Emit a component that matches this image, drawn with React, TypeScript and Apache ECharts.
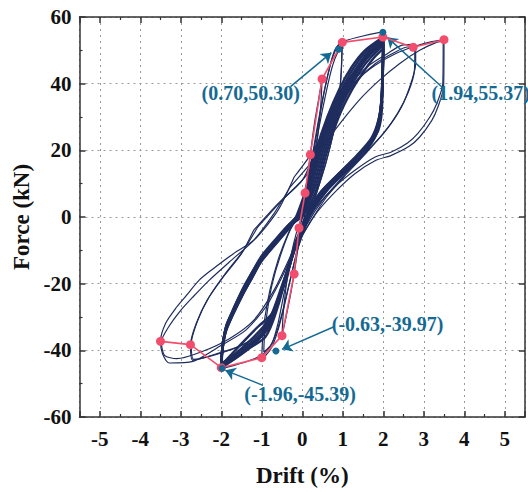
import React, { useEffect, useRef } from "react";
import * as echarts from "echarts";

const NAVY = "#1f2d5e";
const PINK = "#f24d6c";
const TEAL = "#156a93";
const FONT = "Liberation Serif";

// ±2 % cycles (dense band)
const band1 = [[-0.1,0],[0.1,6],[0.2,10],[0.42,20],[0.7,30],[1.0,38],[1.3,44],[1.6,49],[2,53],[1.99,45],[1.97,38],[1.92,31],[1.8,25],[1.5,20],[1.1,15],[0.6,9],[0.25,3],[0.05,-2],[-0.15,-7],[-0.3,-13],[-0.45,-19],[-0.6,-25],[-0.8,-31],[-1.0,-35],[-1.3,-38.5],[-1.6,-41.5],[-2,-45],[-1.98,-40],[-1.9,-34],[-1.74,-29],[-1.55,-24],[-1.34,-19],[-1.05,-13],[-0.7,-8],[-0.35,-3],[-0.1,0]];
const band2 = [[-0.05,0],[0.18,6],[0.3,10],[0.52,20],[0.8,30],[1.1,38],[1.38,44],[1.66,48.5],[2,52],[1.99,44],[1.97,37],[1.9,30],[1.75,24],[1.42,19],[1.0,14],[0.5,8],[0.18,2],[0,-3],[-0.18,-9],[-0.35,-16],[-0.5,-22],[-0.75,-29],[-1.1,-33],[-1.5,-38],[-2,-44.5],[-1.97,-39],[-1.88,-33],[-1.7,-28],[-1.5,-23],[-1.28,-18],[-1.0,-12.5],[-0.65,-7.5],[-0.3,-2.5],[-0.05,0]];
const band3 = [[-0.15,0],[0.03,6],[0.12,10],[0.34,20],[0.62,30],[0.92,38.5],[1.22,45],[1.55,50],[2,54],[1.99,46],[1.97,39],[1.94,32],[1.84,26],[1.58,21],[1.2,16],[0.7,10],[0.3,3.5],[0.08,-1.5],[-0.12,-6.5],[-0.26,-12],[-0.4,-18],[-0.55,-24],[-0.72,-30],[-0.92,-34.5],[-1.2,-38],[-1.55,-41.5],[-2,-45.3],[-1.98,-41],[-1.91,-35],[-1.77,-30],[-1.6,-25],[-1.4,-20],[-1.1,-14],[-0.75,-8.5],[-0.4,-3.5],[-0.15,0]];
const band4 = [[0,0],[0.28,6],[0.4,10],[0.62,20],[0.9,30],[1.2,37.5],[1.48,43],[1.75,47.5],[2,50.5],[1.99,43],[1.97,36],[1.88,29],[1.7,23.5],[1.35,18.5],[0.9,13],[0.42,7],[0.12,1],[-0.05,-4],[-0.22,-11],[-0.4,-18],[-0.58,-26],[-0.78,-33],[-0.95,-36.5],[-1.4,-40],[-2,-44],[-1.96,-38],[-1.86,-32],[-1.66,-27],[-1.45,-22],[-1.22,-17],[-0.95,-12],[-0.6,-7],[-0.25,-2],[0,0]];
const band5 = [[-0.08,0],[0.14,6],[0.25,10],[0.47,20],[0.75,30],[1.05,38],[1.34,44],[1.63,48.8],[2,52.5],[1.99,44.5],[1.97,37.5],[1.93,30.5],[1.82,24.5],[1.55,19.5],[1.15,14.5],[0.65,8.5],[0.28,2.5],[0.06,-2.5],[-0.14,-8],[-0.3,-14],[-0.48,-21],[-0.65,-27],[-0.9,-32],[-1.2,-36],[-1.6,-40.5],[-2,-44.8],[-1.98,-40.5],[-1.89,-34.5],[-1.72,-29.5],[-1.52,-24.5],[-1.3,-19.5],[-1.02,-13.5],[-0.68,-8.5],[-0.33,-3.5],[-0.08,0]];
const band6 = [[-0.12,0],[0.06,6],[0.16,10],[0.38,20],[0.66,30],[0.96,38],[1.26,44.5],[1.57,49.5],[2,53.5],[1.99,45.5],[1.97,38.5],[1.93,31.5],[1.83,25.5],[1.62,21.5],[1.28,17],[0.8,11],[0.38,4.5],[0.12,-1],[-0.1,-6],[-0.28,-12.5],[-0.42,-18.5],[-0.58,-24.5],[-0.76,-30.5],[-0.96,-35],[-1.25,-38.8],[-1.6,-42],[-2,-45.1],[-1.98,-41.5],[-1.92,-35.5],[-1.78,-30.5],[-1.58,-25],[-1.38,-20],[-1.08,-13.5],[-0.72,-8],[-0.38,-3],[-0.12,0]];
const band7 = [[-0.02,0],[0.22,6],[0.35,10],[0.57,20],[0.85,30],[1.15,38],[1.43,43.8],[1.7,48],[2,51.5],[1.99,43.5],[1.97,36.5],[1.91,29.5],[1.78,24],[1.48,19.5],[1.05,14],[0.55,8],[0.2,1.5],[0.02,-3.5],[-0.2,-10],[-0.38,-17],[-0.55,-24],[-0.72,-30],[-0.88,-34],[-1.3,-38],[-1.7,-41.5],[-2,-44.2],[-1.97,-39.5],[-1.87,-33.5],[-1.68,-28.5],[-1.48,-23.5],[-1.25,-18.5],[-0.98,-12.5],[-0.62,-7.5],[-0.28,-2.5],[-0.02,0]];
const band8 = [[-0.1,0],[0.12,6],[0.22,10],[0.44,20],[0.72,30],[1.02,38],[1.32,44],[1.62,49],[2,52.8],[1.99,44],[1.98,36],[1.95,30],[1.86,25.5],[1.62,21.5],[1.25,17],[0.75,11],[0.35,4],[0.1,-1.5],[-0.12,-7],[-0.3,-14],[-0.5,-22],[-0.7,-29],[-0.85,-33.5],[-1.15,-37.5],[-1.55,-41],[-2,-44.6],[-1.97,-39],[-1.88,-33],[-1.7,-27.5],[-1.5,-22.5],[-1.3,-18],[-1.02,-12],[-0.68,-7],[-0.35,-2.5],[-0.1,0]];

// first ±2 % cycle
const first2 = [[0,3],[0.2,15],[0.4,29],[0.6,41],[0.75,48],[0.9,51.5],[1.05,52.8],[1.5,54.3],[1.94,55.37],[1.99,47],[1.97,39],[1.93,32],[1.82,26],[1.55,21],[1.15,16],[0.65,10],[0.3,3.5],[0.05,-2],[-0.15,-8],[-0.3,-15],[-0.45,-23],[-0.6,-32],[-0.75,-38],[-1,-41.5],[-1.4,-43.5],[-1.96,-45.39],[-1.97,-41],[-1.9,-35],[-1.75,-30],[-1.55,-25],[-1.35,-20],[-1.05,-13.5],[-0.7,-8],[-0.35,-3],[0,3]];

// ±1 %, ±0.5 %, small cycles
const cyc1a = [[0,2],[0.2,14],[0.4,28],[0.55,38],[0.7,46],[0.8,50],[0.9,51.8],[0.99,52.4],[0.97,45],[0.92,37],[0.8,27],[0.6,17],[0.35,7],[0.1,-2],[-0.1,-9],[-0.3,-19],[-0.45,-27],[-0.6,-34],[-0.75,-39],[-0.9,-41.5],[-1,-42.2],[-0.98,-37],[-0.92,-30],[-0.8,-22],[-0.6,-13],[-0.35,-5],[-0.1,1],[0,2]];
const cyc1b = [[0,1],[0.2,12],[0.4,26],[0.6,38],[0.75,45.5],[0.88,49.5],[0.98,51],[0.96,43],[0.9,35],[0.78,26],[0.58,16],[0.32,6],[0.08,-3],[-0.12,-10],[-0.32,-20],[-0.48,-28],[-0.62,-34],[-0.78,-38.5],[-0.95,-40.5],[-0.93,-35],[-0.86,-28],[-0.74,-20],[-0.55,-12],[-0.3,-4],[-0.08,0.5],[0,1]];
const cyc05 = [[0,0],[0.1,9],[0.2,18.7],[0.3,28],[0.4,35],[0.49,41.4],[0.46,34],[0.4,26],[0.3,17],[0.15,6],[0,-3],[-0.1,-9],[-0.2,-17.1],[-0.3,-24],[-0.4,-30],[-0.5,-35.6],[-0.47,-29],[-0.4,-21],[-0.3,-13],[-0.15,-5],[0,0]];
const cyc01 = [[0,0],[0.04,4],[0.07,7.2],[0.04,3],[0,-0.5],[-0.04,-2],[-0.08,-3.3],[-0.04,-1],[0,0]];

// ±2.75 % cycles
const cyc275a = [[-1.2,-4],[-0.6,4],[0,11],[0.3,19],[0.7,30],[1.1,38.5],[1.6,45],[2.1,49],[2.45,51.5],[2.8,51.8],[2.8,46],[2.68,40],[2.45,33],[2.1,26.5],[1.6,19.5],[1.1,13],[0.6,6],[0.2,-1.5],[-0.15,-9],[-0.45,-19],[-0.75,-29],[-1.05,-35],[-1.5,-38.5],[-2.1,-41],[-2.7,-43],[-2.76,-38.3],[-2.62,-32],[-2.35,-25],[-1.95,-18],[-1.5,-11],[-1.2,-4]];
const cyc275b = [[-1.1,-3],[-0.5,5],[0.1,12.5],[0.45,21],[0.85,31.5],[1.3,40],[1.8,46],[2.3,49.5],[2.6,51],[2.78,50.9],[2.77,44],[2.62,37.5],[2.35,31],[2,25],[1.5,18.5],[1,12],[0.5,5],[0.1,-2.5],[-0.2,-10],[-0.5,-20],[-0.8,-30],[-1.1,-35.5],[-1.6,-39],[-2.2,-41.5],[-2.68,-42.7],[-2.74,-38],[-2.58,-31],[-2.3,-24],[-1.9,-17],[-1.45,-10],[-1.1,-3]];

// ±3.5 % cycles
const cyc35a = [[-0.2,12],[0.28,20],[0.8,32],[1.3,40.5],[1.8,45.5],[2.3,49],[2.8,51.3],[3.2,52.6],[3.5,53.2],[3.49,39],[3.35,33],[3.2,29],[2.9,24],[2.64,21.2],[2.2,18.5],[1.82,17],[1.3,13],[0.85,8],[0.4,2],[0.12,-3],[-0.2,-10],[-0.5,-18],[-0.9,-27],[-1.4,-34],[-2,-38.5],[-2.7,-43.3],[-3.28,-43.8],[-3.45,-41],[-3.5,-37.3],[-3.37,-31.8],[-3.1,-27],[-2.88,-23.8],[-2.55,-19],[-2.23,-15.8],[-1.7,-11],[-1.18,-6.8],[-0.6,2],[-0.2,12]];
const cyc35b = [[-0.3,9],[0.2,16],[0.8,26],[1.4,35],[1.9,41],[2.4,46],[2.9,50],[3.3,52.3],[3.48,52.8],[3.47,40],[3.32,34],[3.15,30],[2.85,25],[2.6,22.2],[2.2,19.5],[1.8,18],[1.3,14],[0.8,9],[0.35,3],[0.05,-3],[-0.3,-12],[-0.7,-22],[-1.2,-31],[-1.8,-36.5],[-2.5,-40.5],[-3.1,-42.5],[-3.4,-41.5],[-3.48,-37.5],[-3.3,-33],[-3,-28],[-2.7,-24],[-2.3,-19],[-1.8,-13.5],[-1.2,-7],[-0.7,1],[-0.3,9]];

// skeleton (envelope) curve
const skeleton = [[-3.5,-37.3],[-2.76,-38.3],[-2,-45.2],[-1,-42.2],[-0.5,-35.6],[-0.2,-17.1],[-0.08,-3.3],[0.07,7.2],[0.2,18.7],[0.49,41.4],[0.99,52.4],[1.99,54],[2.74,50.9],[3.5,53.2]];

// characteristic points
const keyPoints = [[0.9,50.3],[1.99,55.4],[-0.65,-40.2],[-1.98,-45.4]];
const keyLabels = ["(0.70,50.30)", "(1.94,55.37)", "(-0.63,-39.97)", "(-1.96,-45.39)"];
const labelAnchors = [[-1.26,37.0],[4.42,37.0],[2.12,-32.3],[-0.04,-53.3]];
const arrowFrom = [[-0.29,39.1],[3.45,39.0],[0.77,-33.0],[-0.97,-50.5]];
const arrowTo = [[0.72,49.3],[2.1,53.9],[-0.5,-39.7],[-1.9,-46.0]];

const xTicks = [-5, -4, -3, -2, -1, 0, 1, 2, 3, 4, 5];

const thin = [first2, cyc1a, cyc1b, cyc05, cyc01, cyc275a, cyc275b, cyc35a, cyc35b];
const thick = [band1, band2, band3, band4, band5, band6, band7, band8];

export default function App() {
  const ref = useRef<HTMLDivElement>(null);
  useEffect(() => {
    const chart = echarts.init(ref.current!, null, { renderer: "svg" });
    const axisColor = "#333";
    const labelStyle = { fontFamily: FONT, fontWeight: "bold" as const, fontSize: 21, color: "#111" };
    const splitDots = { show: true, lineStyle: { color: "#9a9a9a", width: 1, type: [2, 4] as any } };
    const loopSeries = (d: number[][], w: number) => ({
      type: "line",
      data: d,
      symbol: "none",
      smooth: 0.25,
      lineStyle: { color: NAVY, width: w },
      z: 2,
      silent: true,
    });
    const option: any = {
      animation: false,
      backgroundColor: "#fff",
      grid: { left: 79.5, top: 17, width: 451, height: 401 },
      xAxis: [
        {
          type: "value",
          min: -5.5,
          max: 5.5,
          splitNumber: xTicks.length,
          position: "bottom",
          axisLine: { onZero: false, lineStyle: { color: axisColor, width: 1.5 } },
          axisTick: { inside: true, length: 6, lineStyle: { color: axisColor, width: 1.5 } },
          minorTick: { show: true, splitNumber: 2, length: 3, lineStyle: { color: axisColor, width: 1.2 } },
          axisLabel: {
            ...labelStyle,
            margin: 11,
            formatter: (v: number) => (xTicks.includes(v) ? String(v) : ""),
          },
          splitLine: splitDots,
          name: "Drift (%)",
          nameLocation: "middle",
          nameGap: 47,
          nameTextStyle: { fontFamily: FONT, fontWeight: "bold", fontSize: 23, color: "#111" },
        },
        {
          type: "value",
          min: -5.5,
          max: 5.5,
          splitNumber: xTicks.length,
          position: "top",
          axisLine: { onZero: false, lineStyle: { color: axisColor, width: 1.5 } },
          axisTick: { inside: true, length: 6, lineStyle: { color: axisColor, width: 1.5 } },
          minorTick: { show: true, splitNumber: 2, length: 3, lineStyle: { color: axisColor, width: 1.2 } },
          axisLabel: { show: false },
          splitLine: { show: false },
        },
      ],
      yAxis: [
        {
          type: "value",
          min: -60,
          max: 60,
          interval: 20,
          position: "left",
          axisLine: { onZero: false, lineStyle: { color: axisColor, width: 1.5 } },
          axisTick: { inside: true, length: 6, lineStyle: { color: axisColor, width: 1.5 } },
          minorTick: { show: true, splitNumber: 2, length: 3, lineStyle: { color: axisColor, width: 1.2 } },
          axisLabel: { ...labelStyle, margin: 8 },
          splitLine: splitDots,
          name: "Force (kN)",
          nameLocation: "middle",
          nameGap: 46,
          nameTextStyle: { fontFamily: FONT, fontWeight: "bold", fontSize: 23, color: "#111" },
        },
        {
          type: "value",
          min: -60,
          max: 60,
          interval: 20,
          position: "right",
          axisLine: { onZero: false, lineStyle: { color: axisColor, width: 1.5 } },
          axisTick: { inside: true, length: 6, lineStyle: { color: axisColor, width: 1.5 } },
          axisLabel: { show: false },
          splitLine: { show: false },
        },
      ],
      series: [
        ...thin.map((d) => loopSeries(d, 1.2)),
        ...thick.map((d) => loopSeries(d, 2.4)),
        {
          type: "line",
          data: skeleton,
          symbol: "circle",
          symbolSize: 9,
          itemStyle: { color: PINK, opacity: 1 },
          lineStyle: { color: PINK, width: 1.6 },
          z: 5,
          silent: true,
        },
        {
          type: "scatter",
          data: keyPoints,
          symbol: "circle",
          symbolSize: 7,
          itemStyle: { color: TEAL, opacity: 1 },
          z: 6,
          silent: true,
          markLine: {
            silent: true,
            symbol: ["none", "arrow"],
            symbolSize: 10,
            lineStyle: { color: TEAL, width: 1.5, type: "solid", opacity: 1 },
            label: { show: false },
            data: arrowFrom.map((f, i) => [{ coord: f }, { coord: arrowTo[i] }]),
          },
        },
        {
          type: "line",
          data: labelAnchors.map((p, i) => ({ value: p, name: keyLabels[i] })),
          symbol: "circle",
          symbolSize: 1,
          showSymbol: true,
          lineStyle: { opacity: 0, width: 0 },
          itemStyle: { color: "rgba(0,0,0,0)", opacity: 1 },
          z: 7,
          silent: true,
          label: {
            show: true,
            position: [0, 0],
            align: "center",
            verticalAlign: "middle",
            formatter: "{b}",
            fontFamily: FONT,
            fontWeight: "bold",
            fontSize: 20,
            color: TEAL,
            opacity: 1,
            textBorderWidth: 0,
          },
        },
      ],
    };
    chart.setOption(option);
    return () => chart.dispose();
  }, []);
  return (
    <div
      ref={ref}
      style={{ position: "fixed", left: 0, top: 0, width: 528, height: 492, background: "#fff" }}
    />
  );
}
